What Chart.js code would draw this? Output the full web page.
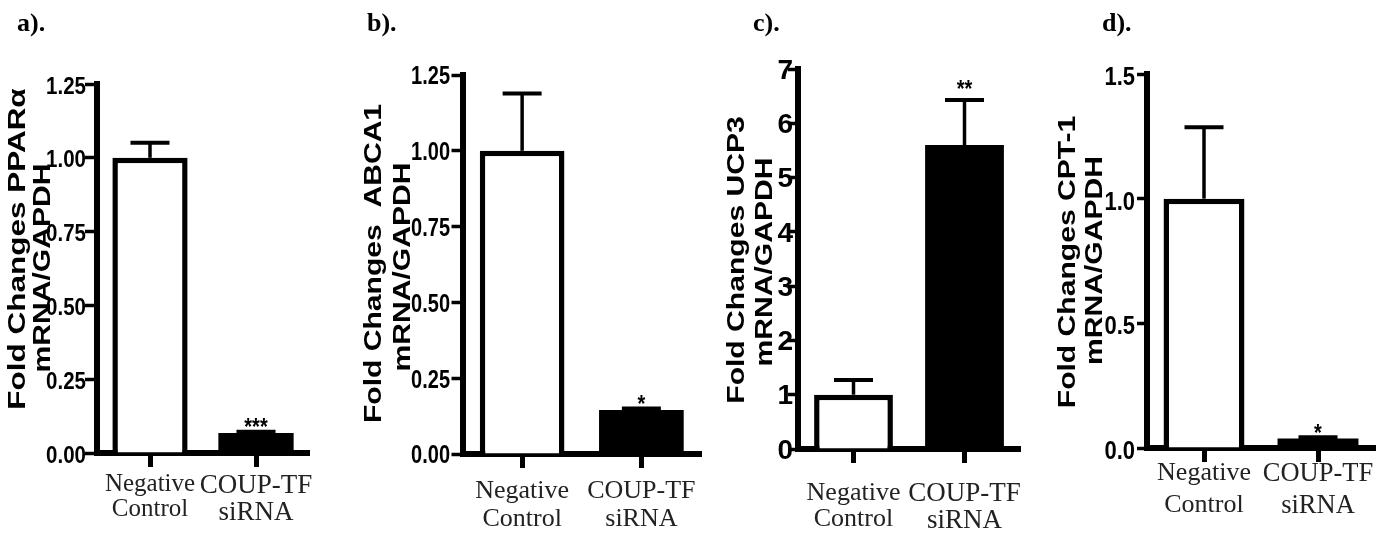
<!DOCTYPE html>
<html>
<head>
<meta charset="utf-8">
<script src="https://cdn.jsdelivr.net/npm/chart.js@4.4.1/dist/chart.umd.min.js"></script>
<style>
  html, body { margin: 0; padding: 0; background: #fff; }
  #wrap { position: relative; width: 1400px; height: 538px; overflow: hidden; }
  #wrap canvas { position: absolute; left: 0; top: 0; }
</style>
</head>
<body>
<div id="wrap">
  <canvas id="panelA" width="1400" height="538"></canvas>
  <canvas id="panelB" width="1400" height="538"></canvas>
  <canvas id="panelC" width="1400" height="538"></canvas>
  <canvas id="panelD" width="1400" height="538"></canvas>
</div>
<script>
// same two groups in every panel
const categories = [['Negative', 'Control'], ['COUP-TF', 'siRNA']]
const barFills = ['#ffffff', '#000000']
// open bar gets an outline, the filled one does not need it
const barBorders = [5.5, 0]

// a) PPARα
const pparaMean = [1.0, 0.068]
const pparaErr = [0.051, 0.004]
const pparaStars = ['', '***']
const pparaTicks = ['0.00', '0.25', '0.50', '0.75', '1.00', '1.25']

// b) ABCA1
const abca1Mean = [1.0, 0.145]
const abca1Err = [0.189, 0.005]
const abca1Stars = ['', '*']
const abca1Ticks = ['0.00', '0.25', '0.50', '0.75', '1.00', '1.25']

// c) UCP3
const ucp3Mean = [1.0, 5.6]
const ucp3Err = [0.27, 0.83]
const ucp3Stars = ['', '**']
const ucp3Ticks = ['0', '1', '2', '3', '4', '5', '6', '7']

// d) CPT-1
const cpt1Mean = [1.0, 0.038]
const cpt1Err = [0.286, 0.005]
const cpt1Stars = ['', '*']
const cpt1Ticks = ['0.0', '0.5', '1.0', '1.5']

const SANS = "'Liberation Sans', Arial, sans-serif"
const SERIF = "'Liberation Serif', 'Times New Roman', serif"

// placement of each panel on the page (pixels)
const panels = [
  {id: 'panelA', tag: 'a).', tagX: 17, mean: pparaMean, err: pparaErr, stars: pparaStars, ticks: pparaTicks,
    title: [['Fold Changes PPARα', 16.5, 249, 1.34], ['mRNA/GAPDH', 41.5, 268, 1.28]],
    area: {left: 97, right: 309, top: 84, bottom: 453},
    tick: {size: 20.5, stretch: 1.18, right: 86, dy: 3, len: 12},
    cat: {sizes: [25, 27], lineHeight: 1.0, pad: 5}, starGap: 10},
  {id: 'panelB', tag: 'b).', tagX: 367, mean: abca1Mean, err: abca1Err, stars: abca1Stars, ticks: abca1Ticks,
    title: [['Fold Changes  ABCA1', 372.5, 263.5, 1.28], ['mRNA/GAPDH', 401.5, 267, 1.28]],
    area: {left: 462.5, right: 701, top: 75, bottom: 454},
    tick: {size: 20, stretch: 1.26, right: 450, dy: 2.5, len: 11},
    cat: {sizes: [26, 26], lineHeight: 1.08, pad: 9}, starGap: 10},
  {id: 'panelC', tag: 'c).', tagX: 753, mean: ucp3Mean, err: ucp3Err, stars: ucp3Stars, ticks: ucp3Ticks,
    title: [['Fold Changes UCP3', 735.5, 260, 1.28], ['mRNA/GAPDH', 763.5, 262, 1.28]],
    area: {left: 798, right: 1020, top: 69, bottom: 449},
    tick: {size: 28, stretch: 1.0, right: 793, dy: 2, len: 10},
    cat: {sizes: [26, 27], lineHeight: 1.0, pad: 17.5}, starGap: 17},
  {id: 'panelD', tag: 'd).', tagX: 1102, mean: cpt1Mean, err: cpt1Err, stars: cpt1Stars, ticks: cpt1Ticks,
    title: [['Fold Changes CPT-1', 1066.5, 262, 1.28], ['mRNA/GAPDH', 1093.5, 260.5, 1.28]],
    area: {left: 1147, right: 1375, top: 74, bottom: 448},
    tick: {size: 22, stretch: 1.15, right: 1135, dy: 4, len: 10},
    cat: {sizes: [26, 26.5], lineHeight: 1.2, pad: -4}, starGap: 10},
]

// draws the bits GraphPad adds: error caps, stars, squashed tick labels, rotated titles
function decorations(p) {
  return {
    id: 'decorations',
    afterDraw(chart) {
      const {ctx} = chart
      const y = chart.scales.y
      ctx.save()
      ctx.fillStyle = '#000'
      ctx.strokeStyle = '#000'

      chart.getDatasetMeta(0).data.forEach((bar, i) => {
        const base = y.getPixelForValue(p.mean[i])
        const top = y.getPixelForValue(p.mean[i] + p.err[i])
        ctx.lineWidth = 3.5
        ctx.beginPath()
        ctx.moveTo(bar.x, base)
        ctx.lineTo(bar.x, top)
        ctx.stroke()
        ctx.lineWidth = 4
        ctx.beginPath()
        ctx.moveTo(bar.x - 19.5, top)
        ctx.lineTo(bar.x + 19.5, top)
        ctx.stroke()
        if (p.stars[i]) {
          ctx.save()
          ctx.font = `bold 20px ${SANS}`
          ctx.textAlign = 'center'
          ctx.textBaseline = 'alphabetic'
          ctx.translate(bar.x, top - p.starGap)
          ctx.scale(1, 1.2)
          ctx.fillText(p.stars[i], 0, 0.565 * 20)
          ctx.restore()
        }
      })

      // y tick labels, taller than wide like the original export
      ctx.font = `bold ${p.tick.size}px ${SANS}`
      ctx.textAlign = 'right'
      ctx.textBaseline = 'middle'
      p.ticks.forEach((t) => {
        ctx.save()
        ctx.translate(p.tick.right, y.getPixelForValue(+t) + p.tick.dy)
        ctx.scale(1, p.tick.stretch)
        ctx.fillText(t, 0, 0)
        ctx.restore()
      })

      // two-line rotated axis title
      ctx.font = `bold 23.5px ${SANS}`
      ctx.textAlign = 'center'
      ctx.textBaseline = 'alphabetic'
      p.title.forEach(([text, cx, cy, k]) => {
        ctx.save()
        ctx.translate(cx, cy)
        ctx.rotate(-Math.PI / 2)
        ctx.scale(k, 1)
        ctx.fillText(text, 0, 8.4)
        ctx.restore()
      })

      // panel letter
      ctx.font = `bold 26px ${SERIF}`
      ctx.textAlign = 'left'
      ctx.fillText(p.tag, p.tagX, 31)
      ctx.restore()
    }
  }
}

panels.forEach((p) => {
  new Chart(document.getElementById(p.id), {
    type: 'bar',
    data: {
      labels: categories,
      datasets: [{
        data: p.mean,
        backgroundColor: barFills,
        borderColor: '#000',
        borderWidth: barBorders,
        barPercentage: 0.71,
        categoryPercentage: 1,
      }],
    },
    options: {
      responsive: false,
      animation: false,
      devicePixelRatio: 1,
      layout: {padding: {left: p.area.left - p.tick.len, right: 1400 - p.area.right, top: p.area.top, bottom: 0}},
      plugins: {legend: {display: false}, tooltip: {enabled: false}},
      scales: {
        x: {
          grid: {offset: false, drawOnChartArea: false, tickLength: 14, tickWidth: 5, tickColor: '#000'},
          border: {display: true, color: '#000', width: 6},
          ticks: {
            color: '#222', padding: p.cat.pad, maxRotation: 0, autoSkip: false,
            font: (ctx) => ({family: SERIF, size: p.cat.sizes[ctx.index] || p.cat.sizes[0], lineHeight: p.cat.lineHeight}),
          },
          afterFit: (s) => { s.height = 538 - p.area.bottom },
        },
        y: {
          min: 0,
          max: +p.ticks[p.ticks.length - 1],
          afterBuildTicks: (s) => { s.ticks = p.ticks.map((t) => ({value: +t})) },
          grid: {drawOnChartArea: false, tickLength: p.tick.len, tickWidth: 3.5, tickColor: '#000'},
          border: {display: true, color: '#000', width: 6},
          ticks: {display: false},
          afterFit: (s) => { s.width = p.tick.len },
        },
      },
    },
    plugins: [decorations(p)],
  })
})
</script>
</body>
</html>
